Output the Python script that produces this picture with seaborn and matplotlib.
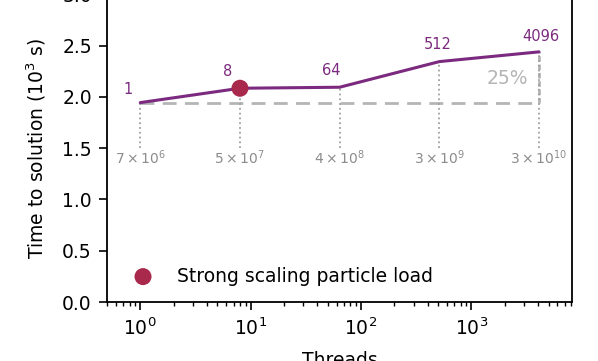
import matplotlib
matplotlib.use("Agg")
import matplotlib.pyplot as plt
import numpy as np
import pandas as pd
import seaborn as sns

# data
threads = [1, 8, 64, 512, 4096]
time_ks = [1.945, 2.085, 2.095, 2.345, 2.44]   # time to solution, 10^3 s
thread_labels = ["1", "8", "64", "512", "4096"]
particle_labels = [r"$7\times10^{6}$", r"$5\times10^{7}$", r"$4\times10^{8}$",
                   r"$3\times10^{9}$", r"$3\times10^{10}$"]
highlight_threads = [8]
highlight_time = [2.085]

LINE_COLOR = "#7b2a7f"
DOT_COLOR = "#a8294b"
GRAY = "#b5b5b5"

sns.set_style("ticks")
plt.rcParams["font.family"] = ["DejaVu Sans"]
for key in ["text.color", "axes.labelcolor", "xtick.color", "ytick.color",
            "axes.edgecolor"]:
    plt.rcParams[key] = "black"

df = pd.DataFrame({"threads": threads, "time": time_ks})

fig = plt.figure(figsize=(5.98, 3.61), dpi=100)
ax = fig.add_axes([0.179, 0.1634, 0.778, 0.852])

# baseline (ideal) dashed line
base = time_ks[0]
ax.plot([threads[0], threads[-1]], [base, base], ls=(0, (5, 3)), color=GRAY,
        lw=2, zorder=1)
# vertical gap at the largest run
ax.plot([threads[-1], threads[-1]], [base, time_ks[-1]], ls=(0, (2, 1)),
        color=GRAY, lw=2, zorder=1)
ax.text(threads[-1] * 0.8, (base + time_ks[-1]) / 2 - 0.01, "25%",
        ha="right", va="center", color=GRAY, fontsize=13.5)

# dotted drop lines and particle-count labels
for t, y, pl in zip(threads, time_ks, particle_labels):
    ax.plot([t, t], [1.5, y], ls=":", color="#a0a0a0", lw=1.3, zorder=1)
    ax.text(t, 1.41, pl, ha="center", va="center", color="#8c8c8c",
            fontsize=10)

sns.lineplot(data=df, x="threads", y="time", color=LINE_COLOR, lw=2.2,
             ax=ax, zorder=3)
sns.scatterplot(x=highlight_threads, y=highlight_time, color=DOT_COLOR, s=150,
                edgecolor="none", ax=ax, zorder=4,
                label="Strong scaling particle load")

# thread-count annotations
offsets = [(-9, 4), (-9, 7), (-6, 7), (-1, 7), (1, 6)]
for t, y, lab, off in zip(threads, time_ks, thread_labels, offsets):
    ax.annotate(lab, (t, y), xytext=off, textcoords="offset points",
                ha="center", va="bottom", color=LINE_COLOR, fontsize=10.5)

ax.set_xscale("log")
ax.set_xlim(0.5, 8192)
ax.set_ylim(0, 3.0)
ax.set_yticks([0, 0.5, 1.0, 1.5, 2.0, 2.5, 3.0])
ax.set_xlabel("Threads", fontsize=13.5, labelpad=9)
ax.set_ylabel(r"Time to solution ($10^3$ s)", fontsize=13.5, labelpad=10)
ax.tick_params(labelsize=13.5, length=5.5, width=1.2, pad=5.5)
ax.tick_params(which="minor", length=3, width=1.0)
for sp in ax.spines.values():
    sp.set_linewidth(1.3)

ax.legend(loc="center left", frameon=False, fontsize=13.5, handletextpad=0.8,
          borderpad=0, borderaxespad=0, bbox_to_anchor=(0.037, 0.0845))

fig.savefig("out.png", dpi=100)
